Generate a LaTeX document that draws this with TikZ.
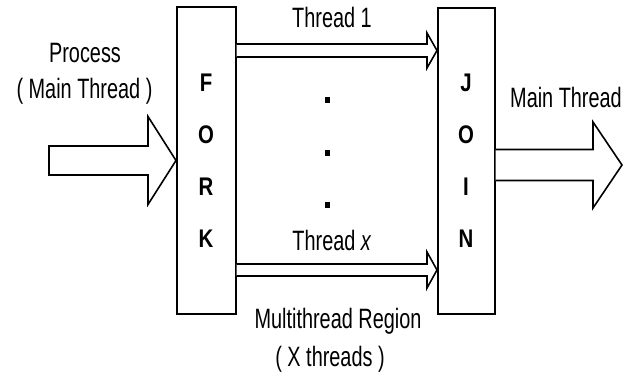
\documentclass[tikz,border=0pt]{standalone}
\usepackage{fontspec}
\setmainfont{Liberation Sans}
\newfontfamily\narrowsans[FakeStretch=0.71]{Liberation Sans}
\newfontfamily\boldsans[FakeStretch=0.8]{Liberation Sans}
\usetikzlibrary{calc}

% block arrow: #1 tail, #2 tip, #3 shaft half-width, #4 head half-width,
% #5 head length, #6 path closing (e.g. "-- cycle" or empty)
\newcommand\blockarrow[6]{%
  \draw[fill=white] ($(#1)+(0,-#3)$) -- ($(#2)+(-#5,-#3)$) -- ($(#2)+(-#5,-#4)$)
    -- (#2) -- ($(#2)+(-#5,#4)$) -- ($(#2)+(-#5,#3)$) -- ($(#1)+(0,#3)$) #6;}

\begin{document}
\begin{tikzpicture}[x=1pt,y=-1pt,line width=1.6pt,
  font=\narrowsans\fontsize{28pt}{32pt}\selectfont,
  bar/.style={draw,inner sep=0pt,anchor=north west,fill=white},
  letter/.style={anchor=base,inner sep=0pt,font=\boldsans\bfseries\fontsize{25.5pt}{30pt}\selectfont},
  label/.style={anchor=base,inner sep=0pt},
  dot/.style={fill=black,inner sep=0pt,minimum width=5pt,minimum height=6pt}]
\useasboundingbox (0,0) rectangle (637,381);

% FORK and JOIN bars
\node[bar,minimum width=59pt,minimum height=307pt] (fork) at (176,6) {};
\node[bar,minimum width=57pt,minimum height=306pt] (join) at (437,7) {};

\foreach \c/\y/\n in {F/91/f1,O/143/f2,R/195/f3,K/247/f4}
  \node[letter] (\n) at (206,\y) {\c};
\foreach \c/\y/\n in {J/91/j1,O/143/j2,I/195/j3,N/247/j4}
  \node[letter] (\n) at (466,\y) {\c};

% arrow reference points
\coordinate (inTail) at (49,160.5);
\coordinate (inTip) at (fork.west |- inTail);
\coordinate (t1) at (235,50.5);
\coordinate (t1Tail) at (fork.east |- t1);
\coordinate (t1Tip) at (join.west |- t1);
\coordinate (tx) at (235,270);
\coordinate (txTail) at (fork.east |- tx);
\coordinate (txTip) at (join.west |- tx);
\coordinate (outY) at (0,165);
\coordinate (outTail) at (join.east |- outY);
\coordinate (outTip) at (622,165);

\blockarrow{inTail}{inTip}{14.5}{44}{28}{-- cycle}
\blockarrow{t1Tail}{t1Tip}{6.5}{17.5}{10}{}
\blockarrow{txTail}{txTip}{6}{18}{10}{}
\blockarrow{outTail}{outTip}{15.5}{43}{29}{}

% dots between the thread arrows
\node[dot] (d1) at (327,100) {};
\node[dot] (d2) at (327,153) {};
\node[dot] (d3) at (327,205) {};

% labels
\node[label] (proc) at (85,62) {Process};
\node[label] (procmt) at (84.5,98) {( Main Thread )};
\node[label] (th1) at (332,27) {Thread 1};
\node[label] (thx) at (332,250) {Thread \textit{x}};
\node[label] (mtr) at (338,328) {Multithread Region};
\node[label] (xth) at (330,366) {( X threads )};
\node[label] (mt) at (566,107) {Main Thread};
\end{tikzpicture}
\end{document}
